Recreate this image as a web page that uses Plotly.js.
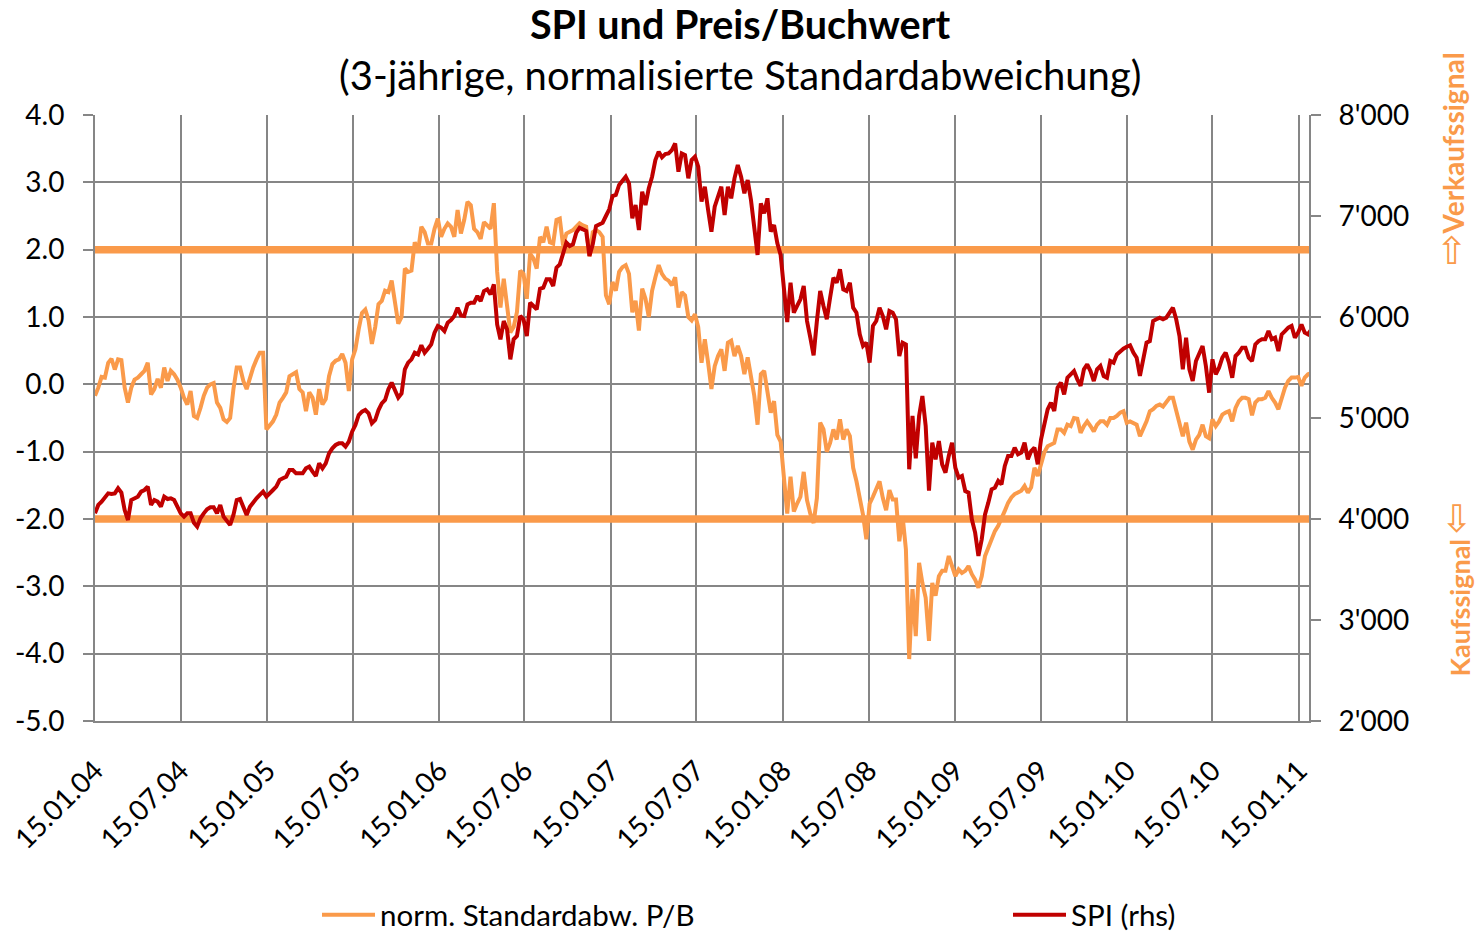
<!DOCTYPE html>
<html>
<head>
<meta charset="utf-8">
<script src="https://cdn.plot.ly/plotly-3.0.1.min.js"></script>
<style>html,body{margin:0;padding:0;background:#fff;overflow:hidden}#chart{width:1476px;height:933px}</style>
</head>
<body>
<div id="chart"></div>
<script>
const seriesStart = '2004-01-15';
const axisEnd = '2011-02-05';
const tickDates = ['2004-01-15','2004-07-15','2005-01-15','2005-07-15','2006-01-15','2006-07-15','2007-01-15','2007-07-15','2008-01-15','2008-07-15','2009-01-15','2009-07-15','2010-01-15','2010-07-15','2011-01-15'];
const tickLabels = ['15.01.04','15.07.04','15.01.05','15.07.05','15.01.06','15.07.06','15.01.07','15.07.07','15.01.08','15.07.08','15.01.09','15.07.09','15.01.10','15.07.10','15.01.11'];
const leftTicks = [4,3,2,1,0,-1,-2,-3,-4,-5];
const leftLabels = ['4.0','3.0','2.0','1.0','0.0','-1.0','-2.0','-3.0','-4.0','-5.0'];
const rightTicks = [8000,7000,6000,5000,4000,3000,2000];
const rightLabels = ["8'000","7'000","6'000","5'000","4'000","3'000","2'000"];
const sellLevel = [2,2];
const buyLevel = [-2,-2];

// Weekly readings, norm. Standardabw. P/B (left axis)
const pbValues = [
-0.17,-0.05,0.11,0.10,0.32,0.38,0.22,0.37,0.36,-0.05,-0.27,-0.05,0.07,0.10,0.15,0.20,0.32,-0.15,-0.07,0.08,-0.05,0.25,0.05,0.20,0.15,0.07,
-0.05,-0.20,-0.30,-0.10,-0.47,-0.50,-0.35,-0.17,-0.05,0,0.02,-0.27,-0.35,-0.52,-0.56,-0.50,-0.07,0.25,0.25,0.05,-0.07,0.10,0.25,0.37,0.47,0.47,
-0.67,-0.61,-0.55,-0.45,-0.27,-0.20,-0.12,0.12,0.15,0.18,-0.07,-0.12,-0.40,-0.12,-0.20,-0.45,-0.07,-0.30,-0.22,0.12,0.30,0.35,0.37,0.45,0.32,-0.10,0.37,
0.52,0.82,1.06,1.11,0.95,0.60,0.85,1.19,1.24,1.39,1.37,1.54,1.22,0.90,1.00,1.72,1.67,1.69,2.11,1.97,2.34,2.26,2.09,2.09,2.31,2.46,
2.19,2.31,2.39,2.34,2.19,2.59,2.24,2.44,2.71,2.66,2.31,2.26,2.16,2.41,2.36,2.31,2.69,1.67,1.14,1.57,1.17,0.77,0.85,1.07,1.69,1.64,
1.27,1.94,1.87,1.72,2.19,2.11,2.34,2.11,2.09,2.44,2.46,2.06,2.24,2.26,2.29,2.34,2.39,2.36,2.34,1.90,2.26,2.29,2.26,2.19,
1.32,1.19,1.52,1.39,1.67,1.74,1.77,1.64,1.07,1.24,0.80,1.42,1.27,1.00,1.39,1.59,1.77,1.64,1.57,1.54,1.47,1.59,1.14,1.37,1.32,1.00,
0.95,1.04,0.85,0.32,0.67,0.32,-0.07,0.27,0.42,0.52,0.20,0.62,0.65,0.42,0.57,0.42,0.15,0.40,0.12,-0.17,-0.60,0.15,0.20,-0.07,
-0.42,-0.25,-0.75,-0.85,-1.47,-1.92,-1.37,-1.89,-1.77,-1.67,-1.30,-1.72,-1.92,-2.06,-1.69,-0.57,-0.67,-1.00,-0.87,-0.67,-0.82,-0.52,-0.82,-0.67,-0.77,-1.24,
-1.44,-1.69,-1.94,-2.30,-1.77,-1.67,-1.57,-1.44,-1.69,-1.87,-1.57,-1.71,-1.71,-2.33,-1.96,-2.45,-4.08,-3.04,-3.74,-2.65,-2.95,-3.17,-3.81,-2.95,-3.14,-2.85,
-2.77,-2.77,-2.55,-2.70,-2.85,-2.75,-2.80,-2.77,-2.70,-2.82,-2.90,-3.02,-2.85,-2.55,-2.43,-2.30,-2.18,-2.10,-2.00,-1.88,-1.76,-1.68,-1.63,-1.61,-1.58,-1.51,
-1.61,-1.53,-1.24,-1.36,-1.19,-1.01,-0.92,-0.89,-0.87,-0.67,-0.67,-0.72,-0.60,-0.62,-0.50,-0.51,-0.72,-0.62,-0.55,-0.62,-0.70,-0.60,-0.55,-0.55,-0.60,-0.50,
-0.50,-0.47,-0.42,-0.40,-0.57,-0.55,-0.57,-0.60,-0.77,-0.67,-0.55,-0.40,-0.37,-0.32,-0.30,-0.33,-0.27,-0.20,-0.20,-0.40,-0.55,-0.77,-0.57,-0.85,-0.97,-0.82,
-0.75,-0.60,-0.77,-0.80,-0.52,-0.62,-0.55,-0.45,-0.42,-0.40,-0.55,-0.35,-0.25,-0.20,-0.20,-0.22,-0.46,-0.27,-0.22,-0.22,-0.20,-0.10,-0.20,-0.27,-0.37,-0.20,
-0.05,0.05,0.10,0.10,0.11,-0.02,0.10,0.15,0.17
];

// Weekly readings, SPI (right axis)
const spiValues = [
4056,4139,4172,4221,4254,4248,4254,4304,4261,4089,3990,4188,4205,4221,4271,4287,4320,4139,4188,4172,4122,4221,4198,4205,4188,4122,
4056,4023,4056,4056,3964,3924,4007,4056,4096,4116,4116,4056,4139,4023,3974,3941,4040,4188,4198,4106,4040,4122,4172,4205,4238,4271,
4221,4261,4287,4320,4386,4403,4419,4485,4485,4452,4452,4452,4502,4518,4469,4426,4551,4502,4551,4650,4700,4733,4749,4749,4716,4766,4865,
4931,5030,5063,5079,5046,4947,4980,5079,5145,5178,5284,5350,5284,5201,5244,5482,5548,5581,5647,5630,5720,5647,5686,5729,5845,5911,
5894,5861,5944,5970,6010,6092,6016,6010,6125,6142,6142,6208,6158,6257,6274,6224,6323,5927,5779,5960,5878,5581,5779,5812,6010,5977,
5812,6142,6109,6076,6280,6290,6373,6373,6307,6488,6521,6637,6736,6703,6719,6835,6884,6868,6851,6604,6719,6901,6917,6934,7000,7066,7198,
7208,7307,7356,7389,7323,6977,7109,6861,7241,7109,7274,7389,7554,7637,7581,7614,7620,7653,7719,7439,7620,7604,7373,7554,7587,7488,
7142,7290,7059,6845,7092,7208,7290,7010,7290,7175,7373,7505,7389,7224,7356,7158,6911,6614,7125,7026,7175,6845,6911,6729,6614,
6241,5950,6340,6043,6109,6175,6307,5960,5795,5620,5960,6257,6109,5977,6191,6389,6340,6472,6274,6257,6340,6092,6043,5828,5713,5746,5548,
5911,5960,6092,6010,5878,6059,6043,5977,5614,5746,5729,4492,5020,4600,5020,5218,4921,4280,4756,4591,4772,4541,4459,4624,4756,4508,
4409,4426,4277,4261,3997,3865,3634,3799,4046,4162,4294,4310,4376,4343,4525,4624,4624,4706,4640,4657,4756,4591,4673,4706,4541,4789,
4937,5086,5152,5069,5300,5350,5234,5399,5432,5465,5383,5317,5482,5531,5465,5366,5482,5515,5416,5399,5564,5548,5630,5663,5686,5706,
5720,5647,5597,5416,5597,5746,5762,5960,5977,5993,5977,5993,6043,6092,5977,5812,5482,5795,5482,5366,5564,5630,5713,5515,5251,5581,
5432,5498,5597,5647,5548,5399,5614,5647,5696,5696,5597,5564,5729,5762,5779,5779,5861,5779,5795,5663,5828,5861,5894,5911,5795,5845,
5927,5845,5828,5878
];

function weeklyDates(n){
  const out=[]; const t0=Date.parse(seriesStart+'T00:00:00Z');
  for(let i=0;i<n;i++){ out.push(new Date(t0+i*7*86400000).toISOString().slice(0,10)); }
  return out;
}

const FONT='Lato, Carlito, sans-serif';
const ARROW_FONT='DejaVu Sans';
const GREY='#868686', ORANGE='#FA9A4A', RED='#C00000';

const traces=[
 {x:[seriesStart,axisEnd],y:sellLevel,mode:'lines',line:{color:ORANGE,width:7.5},showlegend:false,hoverinfo:'skip',cliponaxis:false},
 {x:[seriesStart,axisEnd],y:buyLevel,mode:'lines',line:{color:ORANGE,width:7.5},showlegend:false,hoverinfo:'skip',cliponaxis:false},
 {x:weeklyDates(pbValues.length),y:pbValues,mode:'lines',name:'norm. Standardabw. P/B',line:{color:ORANGE,width:4},legend:'legend'},
 {x:weeklyDates(spiValues.length),y:spiValues,mode:'lines',name:'SPI (rhs)',yaxis:'y2',line:{color:RED,width:4},legend:'legend2'}
];

const legendBase={orientation:'h',xref:'container',yref:'container',xanchor:'left',y:1-915/933,yanchor:'middle',itemwidth:53,
  font:{family:FONT,size:29.5,color:'#000'},bgcolor:'rgba(0,0,0,0)'};

const layout={
 width:1476,height:933,
 margin:{l:95,r:167,t:115,b:212,pad:0},
 paper_bgcolor:'#fff',plot_bgcolor:'#fff',
 font:{family:FONT,size:28,color:'#000'},
 title:{text:'<b>SPI und Preis/Buchwert</b>',font:{family:FONT,size:39.5,color:'#000'},x:740/1476,xanchor:'center',y:1-25/933,yanchor:'middle'},
 xaxis:{type:'date',range:[seriesStart,axisEnd],tickmode:'array',tickvals:tickDates,ticktext:tickLabels,tickangle:-45,ticklabelstandoff:20,
  showgrid:true,gridcolor:GREY,gridwidth:2,showline:true,linecolor:GREY,linewidth:2,ticks:'',tickfont:{family:FONT,size:28,color:'#000'},zeroline:false},
 yaxis:{range:[-5,4],tickmode:'array',tickvals:leftTicks,ticktext:leftLabels,showgrid:true,gridcolor:GREY,gridwidth:2,ticklabelstandoff:13,
  showline:true,linecolor:GREY,linewidth:2,ticks:'outside',ticklen:10,tickwidth:2,tickcolor:GREY,zeroline:false,tickfont:{family:FONT,size:28,color:'#000'}},
 yaxis2:{overlaying:'y',side:'right',range:[2000,8000],tickmode:'array',tickvals:rightTicks,ticktext:rightLabels,showgrid:false,ticklabelstandoff:12,
  showline:true,linecolor:GREY,linewidth:2,ticks:'outside',ticklen:10,tickwidth:2,tickcolor:GREY,zeroline:false,tickfont:{family:FONT,size:28,color:'#000'}},
 legend:Object.assign({},legendBase,{x:317/1476}),
 legend2:Object.assign({},legendBase,{x:1008/1476}),
 annotations:[
  {xref:'paper',yref:'paper',x:(740-95)/1214,y:(721-75)/606,xanchor:'center',yanchor:'middle',showarrow:false,
   text:'(3-jährige, normalisierte Standardabweichung)',font:{family:FONT,size:40,color:'#000'}},
  {xref:'paper',yref:'paper',x:(1452-95)/1214,y:(721-143.5)/606,xanchor:'center',yanchor:'middle',showarrow:false,textangle:-90,
   text:'<b>Verkaufssignal</b>',font:{family:FONT,size:28,color:ORANGE}},
  {xref:'paper',yref:'paper',x:(1452-95)/1214,y:(721-251)/606,xanchor:'center',yanchor:'middle',showarrow:false,
   text:'⇧',font:{family:ARROW_FONT,size:38,color:ORANGE}},
  {xref:'paper',yref:'paper',x:(1459-95)/1214,y:(721-607.5)/606,xanchor:'center',yanchor:'middle',showarrow:false,textangle:-90,
   text:'<b>Kaufssignal</b>',font:{family:FONT,size:27,color:ORANGE}},
  {xref:'paper',yref:'paper',x:(1457-95)/1214,y:(721-519)/606,xanchor:'center',yanchor:'middle',showarrow:false,
   text:'⇩',font:{family:ARROW_FONT,size:38,color:ORANGE}}
 ]
};
Plotly.newPlot('chart',traces,layout,{displayModeBar:false,staticPlot:true});
</script>
</body>
</html>
